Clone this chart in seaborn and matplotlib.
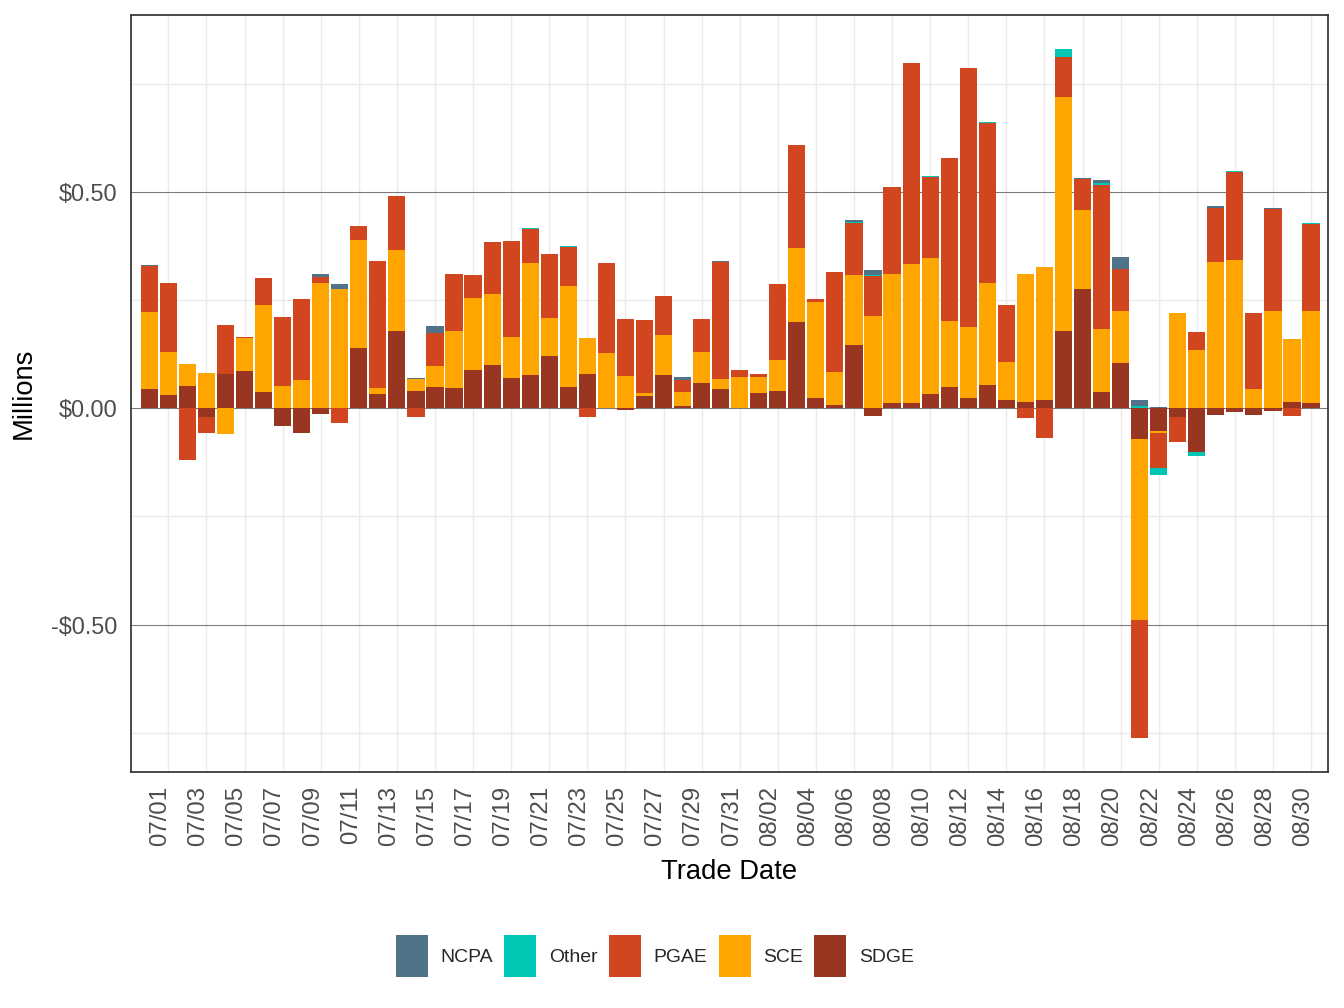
import pandas as pd
import matplotlib
matplotlib.use("Agg")
import matplotlib.pyplot as plt
from matplotlib.patches import Patch
from matplotlib import font_manager
import seaborn as sns

# ---------------------------------------------------------------
# Dati (milioni di $), 07/01 -> 08/31
# ---------------------------------------------------------------
trade_dates = [f"07/{d:02d}" for d in range(1, 32)] + [f"08/{d:02d}" for d in range(1, 32)]

sdge = [0.045, 0.031, 0.052, -0.020, 0.079, 0.086, 0.038, -0.041, -0.057, -0.013,
        0.002, 0.140, 0.033, 0.179, 0.040, 0.049, 0.047, 0.089, 0.100, 0.070,
        0.077, 0.121, 0.049, 0.079, 0.000, -0.003, 0.029, 0.077, 0.005, 0.059,
        0.045,
        0.000, 0.035, 0.040, 0.200, 0.024, 0.008, 0.147, -0.018, 0.012, 0.012,
        0.033, 0.049, 0.024, 0.054, 0.019, 0.015, 0.019, 0.179, 0.276, 0.038,
        0.105, -0.071, -0.052, -0.020, -0.101, -0.015, -0.008, -0.015, -0.006, 0.015,
        0.012]

sce = [0.178, 0.099, 0.051, 0.082, -0.059, 0.077, 0.201, 0.052, 0.066, 0.290,
       0.274, 0.250, 0.014, 0.188, 0.028, 0.049, 0.132, 0.166, 0.165, 0.095,
       0.259, 0.088, 0.234, 0.084, 0.128, 0.075, 0.006, 0.093, 0.033, 0.071,
       0.023,
       0.073, 0.038, 0.072, 0.171, 0.222, 0.076, 0.162, 0.214, 0.299, 0.322,
       0.315, 0.153, 0.164, 0.236, 0.088, 0.296, 0.308, 0.542, 0.183, 0.146,
       0.120, -0.419, -0.005, 0.221, 0.135, 0.339, 0.343, 0.045, 0.225, 0.145,
       0.213]

pgae = [0.107, 0.159, -0.120, -0.037, 0.114, 0.002, 0.063, 0.159, 0.187, 0.014,
        -0.034, 0.032, 0.294, 0.125, -0.020, 0.076, 0.132, 0.054, 0.120, 0.222,
        0.079, 0.148, 0.090, -0.020, 0.208, 0.132, 0.169, 0.090, 0.028, 0.077,
        0.271,
        0.016, 0.006, 0.176, 0.239, 0.007, 0.232, 0.120, 0.092, 0.201, 0.465,
        0.187, 0.377, 0.600, 0.370, 0.132, -0.022, -0.069, 0.092, 0.072, 0.333,
        0.098, -0.273, -0.081, -0.058, 0.042, 0.125, 0.204, 0.176, 0.236, -0.018,
        0.202]

other = [0.0, 0.0, 0.0, 0.0, 0.0, 0.0, 0.0, 0.0, 0.0, 0.0,
         0.0, 0.0, 0.0, 0.0, 0.0, 0.0, 0.0, 0.0, 0.0, 0.0,
         0.002, 0.0, 0.002, 0.0, 0.0, 0.0, 0.0, 0.0, 0.0, 0.0,
         0.0,
         0.0, 0.0, 0.0, 0.0, 0.0, 0.0, 0.002, 0.003, 0.0, 0.0,
         0.003, 0.0, 0.0, 0.003, 0.0, 0.0, 0.0, 0.019, 0.0, 0.005,
         0.0, 0.005, -0.017, 0.0, -0.009, 0.0, 0.002, 0.0, 0.0, 0.0,
         0.002]

ncpa = [0.002, 0.002, 0.0, 0.0, 0.0, 0.0, 0.0, 0.0, 0.0, 0.007,
        0.012, 0.0, 0.0, 0.0, 0.002, 0.017, 0.0, 0.0, 0.0, 0.0,
        0.0, 0.0, 0.0, 0.0, 0.0, 0.0, 0.0, 0.0, 0.007, 0.0,
        0.002,
        0.0, 0.0, 0.0, 0.0, 0.0, 0.0, 0.005, 0.011, 0.0, 0.0,
        0.0, 0.0, 0.0, 0.0, 0.0, 0.0, 0.0, 0.0, 0.002, 0.007,
        0.027, 0.014, 0.003, 0.0, 0.0, 0.004, 0.0, 0.0, 0.003, 0.0,
        0.0]

legend_order = ["NCPA", "Other", "PGAE", "SCE", "SDGE"]
stack_order = ["SDGE", "SCE", "PGAE", "Other", "NCPA"]  # dal basso verso l'alto
colors = {"NCPA": "#4f7489", "Other": "#00c7b3", "PGAE": "#d1461f",
          "SCE": "#ffa500", "SDGE": "#983622"}

df = pd.DataFrame({"Trade Date": trade_dates, "NCPA": ncpa, "Other": other,
                   "PGAE": pgae, "SCE": sce, "SDGE": sdge})

# barre impilate: cumulate separate per parte positiva e negativa
pos = df[stack_order].clip(lower=0).cumsum(axis=1)
neg = df[stack_order].clip(upper=0).cumsum(axis=1)

# ---------------------------------------------------------------
# Grafico
# ---------------------------------------------------------------
sns.set_theme(style="white")
plt.rcParams["font.family"] = ["Liberation Sans", "DejaVu Sans"]

fig = plt.figure(figsize=(14, 10.5), dpi=96)
ax = fig.add_axes([131 / 1344, 1 - 772 / 1008, 1197 / 1344, 757 / 1008])

for name in reversed(stack_order):
    for part in (pos, neg):
        sns.barplot(x=df["Trade Date"], y=part[name], order=trade_dates,
                    color=colors[name], saturation=1, width=0.9,
                    linewidth=0, errorbar=None, ax=ax)

ax.set_xlim(-0.961, 61.89)
ax.set_ylim(-0.841, 0.910)

ax.set_xticks(range(0, 62, 2))
ax.set_xticklabels(trade_dates[::2], rotation=90, ha="left")
ax.set_xticks(range(1, 62, 2), minor=True)
ax.set_yticks([-0.5, 0.0, 0.5])
ax.set_yticklabels(["-$0.50", "$0.00", "$0.50"])
ax.set_yticks([-0.75, -0.25, 0.25, 0.75], minor=True)

ax.set_axisbelow(True)
ax.grid(False)
ax.yaxis.grid(True, which="major", color="#7a7a7a", lw=0.8)
ax.yaxis.grid(True, which="minor", color="#ebebeb", lw=1.1)
ax.xaxis.grid(True, which="minor", color="#ebebeb", lw=1.1)

ax.tick_params(which="minor", length=0)
ax.tick_params(which="major", length=5.25, width=1.5, color="#333333",
               labelsize=17.5, labelcolor="#4d4d4d", pad=5)
ax.tick_params(axis="x", which="major", labelsize=18, pad=5)

for sp in ax.spines.values():
    sp.set_visible(True)
    sp.set_color("#333333")
    sp.set_linewidth(1.3)

ax.set_xlabel("Trade Date", fontsize=20.5, color="black")
ax.xaxis.set_label_coords(0.5, -0.1413)
ax.xaxis.label.set_va("baseline")
ax.set_ylabel("Millions", fontsize=20.5, color="black")
ax.yaxis.set_label_coords(-0.0894, 0.5)
ax.yaxis.label.set_va("center")

# legenda in basso (testo stretto come nell'originale, se il font c'e')
has_narrow = any(f.name == "Liberation Sans Narrow" for f in font_manager.fontManager.ttflist)
if has_narrow:
    leg_font = {"family": "Liberation Sans Narrow", "size": 17}
else:
    leg_font = {"family": "Liberation Sans", "size": 14.5}
fs_px = leg_font["size"] * 96 / 72
key_h = (42 / fs_px - 0.245) / 0.65   # altezza effettiva del riquadro = 42 px

handles = [Patch(facecolor=colors[n], edgecolor="none") for n in legend_order]
fig.legend(handles, legend_order, loc="center",
           bbox_to_anchor=(655 / 1344, 1 - 956 / 1008), ncol=5, frameon=False,
           prop=leg_font, handlelength=32 / fs_px, handleheight=key_h,
           handletextpad=13 / fs_px, columnspacing=11 / fs_px)

fig.savefig("out.png", dpi=96)
